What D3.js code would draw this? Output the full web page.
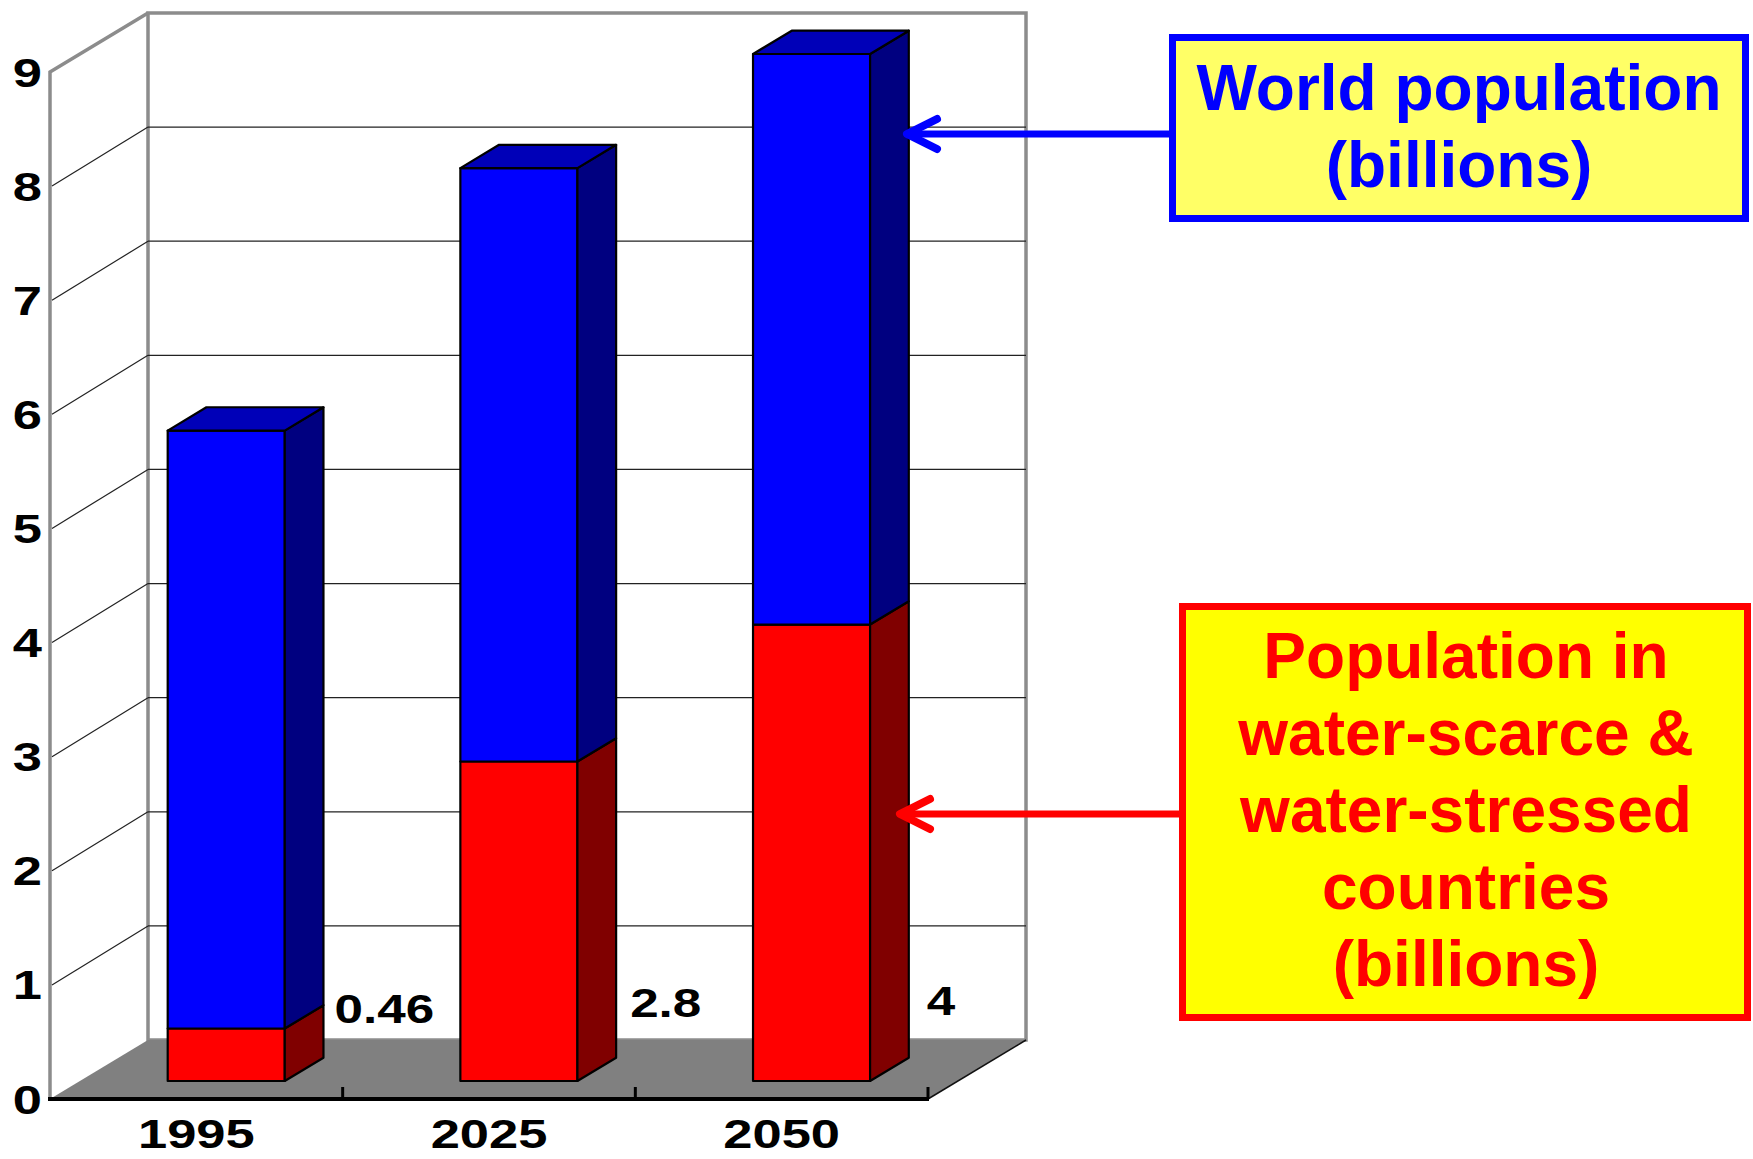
<!DOCTYPE html>
<html>
<head>
<meta charset="utf-8">
<script src="https://cdn.jsdelivr.net/npm/d3@7"></script>
<style>
  html, body { margin: 0; padding: 0; background: #ffffff; }
  svg { display: block; }
  text { font-family: "Liberation Sans", Arial, sans-serif; font-weight: bold; }
</style>
</head>
<body>
<svg id="chart" width="1753" height="1159"></svg>
<script>
// ---- data ----
const categories = ["1995", "2025", "2050"];
const worldPopulation = [5.7, 8.0, 9.0];          // billions
const waterStressedPopulation = [0.46, 2.8, 4];    // billions
const valueLabels = ["0.46", "2.8", "4"];
const yTickValues = [0, 1, 2, 3, 4, 5, 6, 7, 8, 9];
const worldLabelLines = ["World population", "(billions)"];
const stressedLabelLines = ["Population in", "water-scarce &", "water-stressed", "countries", "(billions)"];

// ---- layout ----
const svg = d3.select("#chart");
const DX = 98, DY = -59;              // full depth of the 3-D box
const BAR_Z0 = 0.305, BAR_Z1 = 0.70;  // bar depth range inside the box
const TEXT_STRETCH = 1.28;            // wide chart lettering
const CHART_FONT = 41;

const x = d3.scaleBand().domain(categories).range([50, 928])
  .paddingInner(0.6).paddingOuter(0.3);
const y = d3.scaleLinear().domain([0, 9]).range([1099, 72]);
const proj = (px, py, z) => [px + z * DX, py + z * DY];
const step = x.step();
const x0 = x.range()[0], x1 = x.range()[1];

const gray = "#8c8c8c";

// back wall
const back = svg.append("g");
back.append("rect")
  .attr("x", x0 + DX).attr("y", y(9) + DY)
  .attr("width", x1 - x0).attr("height", y(0) - y(9))
  .attr("fill", "#fff").attr("stroke", gray).attr("stroke-width", 3.5);

// left wall outline
back.append("path")
  .attr("d", d3.line()([[x0, y(0)], [x0, y(9)], proj(x0, y(9), 1)]))
  .attr("fill", "none").attr("stroke", gray).attr("stroke-width", 3.5);

// gridlines: back wall + left wall
const gridVals = yTickValues.filter(v => v > 0 && v < 9);
back.selectAll("line.gb").data(gridVals).join("line")
  .attr("x1", x0 + DX).attr("x2", x1 + DX)
  .attr("y1", v => y(v) + DY).attr("y2", v => y(v) + DY)
  .attr("stroke", "#222").attr("stroke-width", 1.2);
back.selectAll("line.gl").data(gridVals).join("line")
  .attr("x1", x0 + 2).attr("y1", v => y(v))
  .attr("x2", x0 + DX).attr("y2", v => y(v) + DY)
  .attr("stroke", "#222").attr("stroke-width", 1.2);

// floor
svg.append("path")
  .attr("d", d3.line()([[x0, y(0)], [x1, y(0)], proj(x1, y(0), 1), proj(x0, y(0), 1)]) + "Z")
  .attr("fill", "#808080");
svg.append("line")
  .attr("x1", x1).attr("y1", y(0))
  .attr("x2", x1 + DX).attr("y2", y(0) + DY)
  .attr("stroke", "#111").attr("stroke-width", 1.5);

// front axis and category ticks
svg.append("line")
  .attr("x1", x0 - 2).attr("x2", x1 + 1)
  .attr("y1", y(0)).attr("y2", y(0))
  .attr("stroke", "#000").attr("stroke-width", 4);
svg.selectAll("line.tick").data(categories).join("line")
  .attr("x1", d => x(d) - x.paddingOuter() * step + step)
  .attr("x2", d => x(d) - x.paddingOuter() * step + step)
  .attr("y1", y(0)).attr("y2", y(0) - 12)
  .attr("stroke", "#000").attr("stroke-width", 3);

// y tick labels
svg.selectAll("text.ytick").data(yTickValues).join("text")
  .attr("transform", v => `translate(42,${y(v) + 14.5}) scale(${TEXT_STRETCH},1)`)
  .attr("text-anchor", "end").attr("font-size", CHART_FONT).attr("fill", "#000")
  .text(v => v);

// category labels
svg.selectAll("text.xtick").data(categories).join("text")
  .attr("transform", d => `translate(${x(d) + x.bandwidth() / 2},1148) scale(${TEXT_STRETCH},1)`)
  .attr("text-anchor", "middle").attr("font-size", CHART_FONT).attr("fill", "#000")
  .text(d => d);

// 3-D bar segment: front, side, optional top
function box(g, cat, v0, v1, colors, withTop) {
  const bx0 = x(cat), bx1 = x(cat) + x.bandwidth();
  const f = (px, v, z) => proj(px, y(v), z);
  const line = d3.line();
  const front = [f(bx0, v0, BAR_Z0), f(bx1, v0, BAR_Z0), f(bx1, v1, BAR_Z0), f(bx0, v1, BAR_Z0)];
  const side = [f(bx1, v0, BAR_Z0), f(bx1, v0, BAR_Z1), f(bx1, v1, BAR_Z1), f(bx1, v1, BAR_Z0)];
  const top = [f(bx0, v1, BAR_Z0), f(bx1, v1, BAR_Z0), f(bx1, v1, BAR_Z1), f(bx0, v1, BAR_Z1)];
  const style = sel => sel.attr("stroke", "#000").attr("stroke-width", 2.2).attr("stroke-linejoin", "round");
  g.append("path").attr("d", line(front) + "Z").attr("fill", colors.front).call(style);
  g.append("path").attr("d", line(side) + "Z").attr("fill", colors.side).call(style);
  if (withTop) g.append("path").attr("d", line(top) + "Z").attr("fill", colors.top).call(style);
}

const redColors = { front: "#ff0000", side: "#800000", top: "#c00000" };
const blueColors = { front: "#0000ff", side: "#000080", top: "#0000b8" };

const bars = svg.append("g");
categories.forEach((c, i) => {
  const g = bars.append("g");
  box(g, c, 0, waterStressedPopulation[i], redColors, false);
  box(g, c, waterStressedPopulation[i], worldPopulation[i], blueColors, true);
});

// value labels for the water-stressed segment
const labelNudge = [[11, -58], [14, -64], [18, -66]];
svg.selectAll("text.val").data(categories).join("text")
  .attr("transform", (c, i) => {
    const [sx] = proj(x(c) + x.bandwidth(), y(0), BAR_Z1);
    const by = proj(0, y(0), BAR_Z0)[1];
    return `translate(${sx + labelNudge[i][0]},${by + labelNudge[i][1]}) scale(${TEXT_STRETCH},1)`;
  })
  .attr("font-size", CHART_FONT - 1).attr("fill", "#000")
  .text((c, i) => valueLabels[i]);

// callouts
function callout(opts) {
  const g = svg.append("g");
  // arrow shaft
  g.append("line")
    .attr("x1", opts.box[0]).attr("y1", opts.arrowY)
    .attr("x2", opts.tipX + 3).attr("y2", opts.arrowY)
    .attr("stroke", opts.color).attr("stroke-width", 7);
  // arrow head (open chevron)
  g.append("path")
    .attr("d", d3.line()([[opts.tipX + 30, opts.arrowY - 15], [opts.tipX, opts.arrowY], [opts.tipX + 30, opts.arrowY + 15]]))
    .attr("fill", "none").attr("stroke", opts.color).attr("stroke-width", 8)
    .attr("stroke-linecap", "round").attr("stroke-linejoin", "round");
  // box
  const [bx, by, bw, bh] = opts.box;
  g.append("rect")
    .attr("x", bx + 3.5).attr("y", by + 3.5)
    .attr("width", bw - 7).attr("height", bh - 7)
    .attr("fill", opts.fill).attr("stroke", opts.color).attr("stroke-width", 7);
  g.selectAll("text").data(opts.lines).join("text")
    .attr("x", bx + bw / 2 + opts.textDx)
    .attr("y", (d, i) => opts.firstBaseline + i * opts.lineStep)
    .attr("text-anchor", "middle").attr("font-size", 64).attr("fill", opts.color)
    .text(d => d);
}

callout({
  box: [1169, 34, 580, 188], color: "#0000ff", fill: "#ffff66",
  lines: worldLabelLines, firstBaseline: 110, lineStep: 77, textDx: 0,
  arrowY: 134, tipX: 907
});
callout({
  box: [1179, 603, 572, 418], color: "#ff0000", fill: "#ffff00",
  lines: stressedLabelLines, firstBaseline: 678, lineStep: 77, textDx: 1,
  arrowY: 814, tipX: 900
});
</script>
</body>
</html>
